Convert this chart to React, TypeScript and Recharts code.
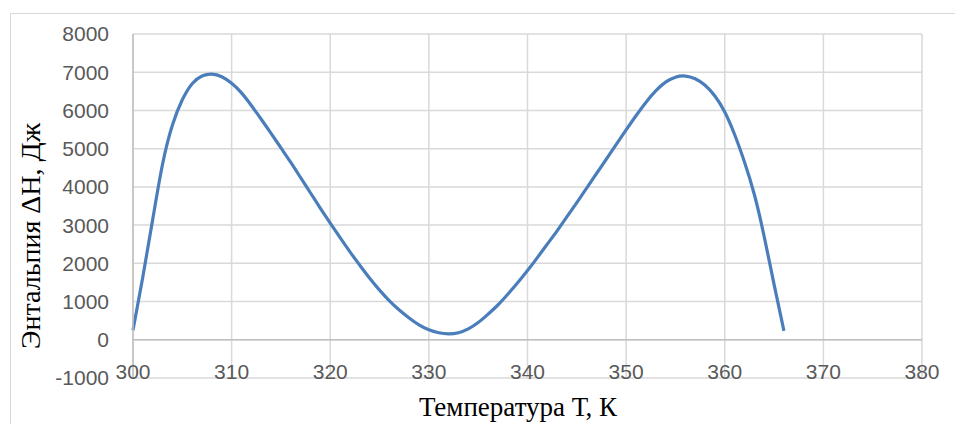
import React from "react";
import { LineChart, Line, XAxis, YAxis, CartesianGrid, ReferenceLine } from "recharts";

// temperature, K
const temperature = [
  300, 301, 302, 303, 304, 305, 306, 307, 308, 309, 310, 311, 312, 313, 314, 315, 316,
  317, 318, 319, 320, 321, 322, 323, 324, 325, 326, 327, 328, 329, 330, 331, 332, 333,
  334, 335, 336, 337, 338, 339, 340, 341, 342, 343, 344, 345, 346, 347, 348, 349, 350,
  351, 352, 353, 354, 355, 356, 357, 358, 359, 360, 361, 362, 363, 364, 365, 366,
];

// enthalpy dH, J
const enthalpy = [
  250, 1650, 3150, 4600, 5620, 6280, 6700, 6900, 6950, 6880, 6710, 6460, 6130, 5770, 5400, 5020, 4640,
  4240, 3840, 3440, 3050, 2670, 2300, 1950, 1610, 1300, 1020, 780, 570, 390, 260, 185, 155, 185,
  285, 450, 670, 910, 1190, 1490, 1810, 2150, 2500, 2850, 3220, 3590, 3970, 4350, 4730, 5110, 5490,
  5860, 6210, 6510, 6740, 6870, 6900, 6830, 6660, 6380, 5960, 5370, 4650, 3800, 2700, 1450, 235,
];

const xTicks = [300, 310, 320, 330, 340, 350, 360, 370, 380];
const yTicks = [-1000, 0, 1000, 2000, 3000, 4000, 5000, 6000, 7000, 8000];

const data = temperature.map((t, i) => ({ t, h: enthalpy[i] }));

const tickFont = "'Liberation Sans', Arial, sans-serif";
const titleFont = "'Liberation Serif', 'Times New Roman', serif";

const XTick = (props: any) => {
  const { x, y, payload } = props;
  return (
    <text x={x} y={y + 1} textAnchor="middle" fill="#595959" fontSize={21} fontFamily={tickFont}>
      {payload.value}
    </text>
  );
};

export default function App() {
  return (
    <div style={{ position: "absolute", left: 0, top: 0, width: 955, height: 424, background: "#fff", overflow: "hidden" }}>
      <div style={{ position: "absolute", left: 10, top: 13, width: 960, height: 430, border: "1px solid #d9d9d9" }} />
      <LineChart
        width={955}
        height={424}
        data={data}
        margin={{ top: 34, right: 33, bottom: 16, left: 0 }}
        style={{ position: "absolute", left: 0, top: 0 }}
      >
        <CartesianGrid stroke="#d9d9d9" strokeWidth={1.5} />
        <XAxis
          type="number"
          dataKey="t"
          domain={[300, 380]}
          ticks={xTicks}
          axisLine={false}
          tickLine={false}
          tickSize={0}
          tickMargin={0}
          height={30}
          tick={<XTick />}
          interval={0}
        />
        <YAxis
          type="number"
          domain={[-1000, 8000]}
          ticks={yTicks}
          width={133}
          axisLine={{ stroke: "#bfbfbf", strokeWidth: 1.5 }}
          tickLine={false}
          tickSize={16}
          tickMargin={8}
          interval={0}
          tick={{ fill: "#595959", fontSize: 21, fontFamily: tickFont }}
        />
        <ReferenceLine y={0} stroke="#bfbfbf" strokeWidth={1.5} />
        <Line
          type="natural"
          dataKey="h"
          stroke="#4a7ebb"
          strokeWidth={3.2}
          dot={false}
          isAnimationActive={false}
        />
      </LineChart>
      <div
        style={{
          position: "absolute",
          left: 518,
          top: 392,
          transform: "translateX(-50%)",
          fontFamily: titleFont,
          fontSize: 27,
          lineHeight: "31px",
          color: "#000",
          whiteSpace: "nowrap",
        }}
      >
        Температура Т, К
      </div>
      <div
        style={{
          position: "absolute",
          left: 31,
          top: 236,
          transform: "translate(-50%, -50%) rotate(-90deg)",
          fontFamily: titleFont,
          fontSize: 28,
          lineHeight: "32px",
          color: "#000",
          whiteSpace: "nowrap",
        }}
      >
        Энтальпия ΔН, Дж
      </div>
    </div>
  );
}
